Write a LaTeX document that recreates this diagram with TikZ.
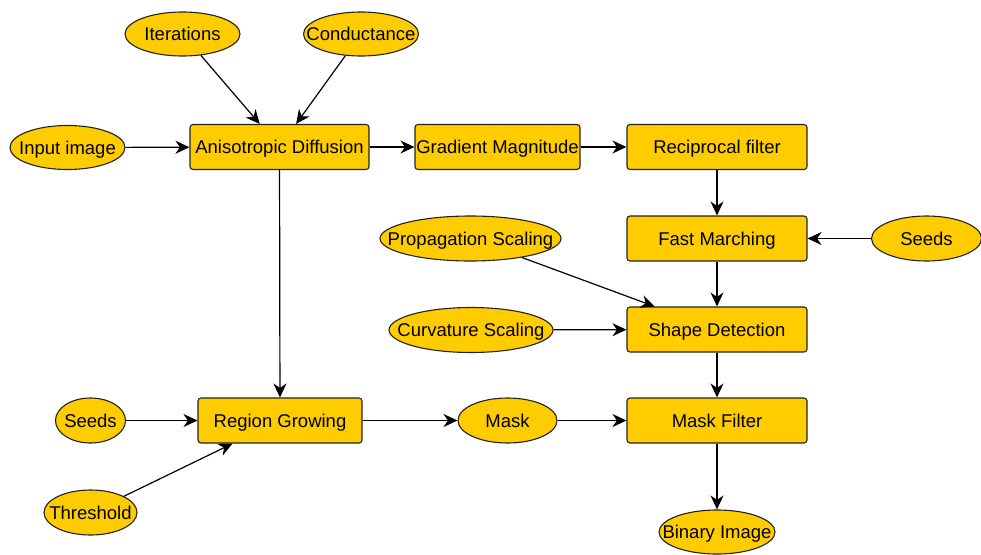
\documentclass[tikz,border=0pt]{standalone}
\usepackage{fontspec}
\setmainfont{Liberation Sans}
\usetikzlibrary{shapes.geometric,arrows.meta}
\definecolor{gold}{HTML}{FFCC00}
\definecolor{edgegray}{HTML}{222222}
\newcommand{\zw}[1]{\makebox[0pt]{#1}}
\tikzset{
  base/.style={draw=edgegray, fill=gold, line width=1.1pt, inner sep=0pt, text height=13.3pt, text depth=0pt, font=\fontsize{18.5}{20}\selectfont},
  proc/.style={base, rectangle, rounded corners=3pt, minimum height=45pt},
  param/.style={base, ellipse, minimum height=45pt},
  flow/.style={-{Stealth[length=14pt,width=13pt,inset=4.5pt]}, line width=1.2pt, black},
}
\begin{document}
\begin{tikzpicture}[x=1pt,y=-1pt]
\useasboundingbox (0,0) rectangle (981,554);
% processes
\node[proc, minimum width=179pt] (ad) at (279.5,147) {\zw{Anisotropic Diffusion}};
\node[proc, minimum width=165pt] (gm) at (497.5,147) {\zw{Gradient Magnitude}};
\node[proc, minimum width=180pt] (rf) at (717,147) {\zw{Reciprocal filter}};
\node[proc, minimum width=180pt] (fm) at (717,238.5) {\zw{Fast Marching}};
\node[proc, minimum width=180pt] (sd) at (717,329.5) {\zw{Shape Detection}};
\node[proc, minimum width=180pt] (mf) at (717,420.5) {\zw{Mask Filter}};
\node[proc, minimum width=164pt] (rg) at (280,420.5) {\zw{Region Growing}};
% parameters
\node[param, minimum width=115pt, minimum height=44pt] (it) at (182.5,34) {\zw{Iterations}};
\node[param, minimum width=115pt, minimum height=44pt] (co) at (361,34) {\zw{Conductance}};
\node[param, minimum width=115pt, minimum height=44pt] (in) at (67.5,147.5) {\zw{Input image}};
\node[param, minimum width=110pt] (sr) at (926.5,238.5) {\zw{Seeds}};
\node[param, minimum width=181pt] (ps) at (470.5,238.5) {\zw{Propagation Scaling}};
\node[param, minimum width=164pt] (cs) at (471,330) {\zw{Curvature Scaling}};
\node[param, minimum width=99pt] (mk) at (507.5,420.5) {\zw{Mask}};
\node[param, minimum width=116pt, minimum height=44pt] (bi) at (717,532) {\zw{Binary Image}};
\node[param, minimum width=70pt] (sl) at (90.5,420.5) {\zw{Seeds}};
\node[param, minimum width=93pt] (th) at (90.5,512.5) {\zw{Threshold}};
% connectors
\draw[flow] (it) -- (ad);
\draw[flow] (co) -- (ad);
\draw[flow] (in) -- (ad);
\draw[flow] (ad) -- (gm);
\draw[flow] (gm) -- (rf);
\draw[flow] (rf) -- (fm);
\draw[flow] (sr) -- (fm);
\draw[flow] (fm) -- (sd);
\draw[flow] (ps) -- (sd);
\draw[flow] (cs) -- (sd);
\draw[flow] (sd) -- (mf);
\draw[flow] (mf) -- (bi);
\draw[flow] (mk) -- (mf);
\draw[flow] (rg) -- (mk);
\draw[flow] (ad) -- (rg);
\draw[flow] (sl) -- (rg);
\draw[flow] (th) -- (rg);
\end{tikzpicture}
\end{document}
